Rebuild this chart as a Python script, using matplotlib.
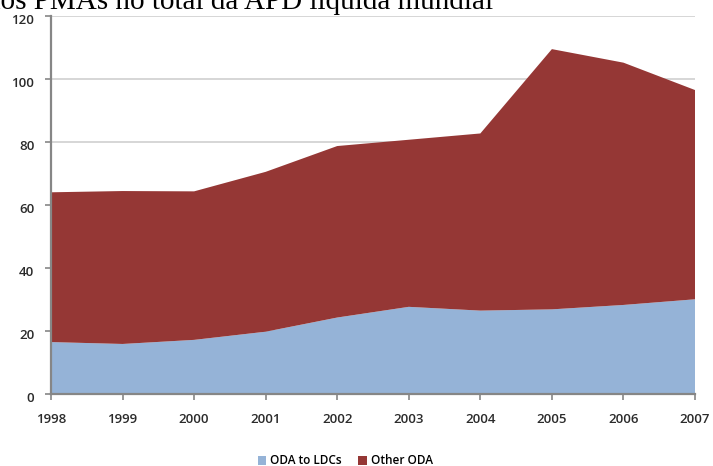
import numpy as np
import matplotlib
matplotlib.use("Agg")
import matplotlib.pyplot as plt
from matplotlib.transforms import ScaledTranslation

YEARS = [1998, 1999, 2000, 2001, 2002, 2003, 2004, 2005, 2006, 2007]
ODA_LDC = [16.5, 15.9, 17.2, 19.8, 24.3, 27.7, 26.5, 26.9, 28.3, 30.1]
TOTAL = [64.1, 64.5, 64.4, 70.6, 78.8, 80.8, 82.8, 109.6, 105.3, 96.6]
OTHER = [t - l for t, l in zip(TOTAL, ODA_LDC)]
YTICKS = [0, 20, 40, 60, 80, 100, 120]

BLUE = "#95b3d7"
RED = "#953735"
AXIS = "#868686"

fig = plt.figure(figsize=(7.13, 4.66), dpi=100)
ax = fig.add_axes([51 / 713, 1 - 394 / 466, (695 - 51) / 713, (394 - 16.4) / 466])

ax.stackplot(YEARS, ODA_LDC, OTHER, colors=[BLUE, RED],
             labels=["ODA to LDCs", "Other ODA"], zorder=2)
ax.set_xlim(YEARS[0], YEARS[-1])
ax.set_ylim(0, 120)
ax.set_xticks(YEARS)
ax.set_yticks(YTICKS)
ax.yaxis.grid(True, color="#d0d0d0", lw=1.2, zorder=0)
ax.set_axisbelow(True)

for side in ("top", "right"):
    ax.spines[side].set_visible(False)
for side in ("left", "bottom"):
    ax.spines[side].set_color(AXIS)
    ax.spines[side].set_linewidth(1.6)
    ax.spines[side].set_zorder(3)
ax.tick_params(direction="out", length=4, width=1.2, color=AXIS,
               labelsize=9.5, labelcolor="#2b2b2b")
ax.tick_params(axis="x", pad=10)
ax.tick_params(axis="y", pad=8)
shift = ScaledTranslation(0, -3 / 100, fig.dpi_scale_trans)
for lab in ax.get_xticklabels() + ax.get_yticklabels():
    lab.set_family("Open Sans")
    lab.set_weight("semibold")
for lab in ax.get_yticklabels():
    lab.set_transform(lab.get_transform() + shift)

fig.legend(loc="center", bbox_to_anchor=(0.484, 1 - 461 / 466), ncol=2,
           frameon=False, handlelength=0.75, handleheight=0.8,
           handletextpad=0.3, columnspacing=1.4,
           prop={"family": "Open Sans", "size": 8.5, "weight": "semibold"})

fig.text(493 / 713, 1 - 9 / 466, "dos PMAs no total da APD líquida mundial",
         ha="right", va="baseline", fontsize=21, family="Liberation Serif", color="black")

fig.savefig("out.png", dpi=100)
